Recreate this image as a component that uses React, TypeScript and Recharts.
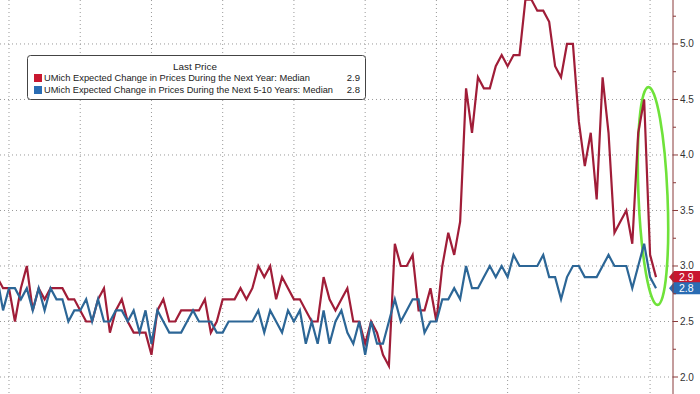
import { LineChart, Line, XAxis, YAxis, CartesianGrid, ReferenceLine, Legend, Customized } from 'recharts';

// monthly survey values, Oct 2014 .. Jan 2024
const yearAhead = [
  2.9, 2.8, 2.8, 2.5, 2.8, 3.0, 2.6, 2.8, 2.7, 2.8, 2.8, 2.8, 2.7, 2.7, 2.6,
  2.5, 2.5, 2.7, 2.8, 2.4, 2.6, 2.7, 2.5, 2.4, 2.4, 2.4, 2.2,
  2.6, 2.7, 2.5, 2.5, 2.6, 2.6, 2.6, 2.6, 2.7, 2.4, 2.5, 2.7,
  2.7, 2.7, 2.8, 2.7, 2.8, 3.0, 2.9, 3.0, 2.7, 2.9, 2.8, 2.7,
  2.7, 2.6, 2.5, 2.5, 2.9, 2.7, 2.6, 2.7, 2.8, 2.5, 2.5, 2.3,
  2.5, 2.4, 2.2, 2.1, 3.2, 3.0, 3.0, 3.1, 2.6, 2.6, 2.8, 2.5,
  3.0, 3.3, 3.1, 3.4, 4.6, 4.2, 4.7, 4.6, 4.6, 4.8, 4.9, 4.8,
  4.9, 4.9, 5.4, 5.4, 5.3, 5.3, 5.2, 4.8, 4.7, 5.0, 5.0, 4.3,
  3.9, 4.2, 3.6, 4.7, 4.2, 3.3, 3.4, 3.5, 3.2, 4.2, 4.5, 3.1,
  2.9,
];

const longRun = [
  2.9, 2.6, 2.8, 2.8, 2.7, 2.8, 2.6, 2.8, 2.6, 2.8, 2.7, 2.7, 2.5, 2.6, 2.6,
  2.7, 2.5, 2.7, 2.5, 2.5, 2.6, 2.6, 2.5, 2.6, 2.4, 2.6, 2.3,
  2.6, 2.5, 2.4, 2.4, 2.4, 2.5, 2.6, 2.5, 2.5, 2.5, 2.4, 2.4,
  2.5, 2.5, 2.5, 2.5, 2.5, 2.6, 2.4, 2.6, 2.5, 2.4, 2.6, 2.5,
  2.6, 2.3, 2.5, 2.3, 2.6, 2.3, 2.5, 2.6, 2.4, 2.3, 2.5, 2.2,
  2.5, 2.3, 2.3, 2.5, 2.7, 2.5, 2.6, 2.7, 2.7, 2.4, 2.5, 2.5,
  2.7, 2.7, 2.8, 2.7, 3.0, 2.8, 2.8, 2.9, 3.0, 2.9, 3.0, 2.9,
  3.1, 3.0, 3.0, 3.0, 3.0, 3.1, 2.9, 2.9, 2.7, 2.9, 3.0, 3.0,
  2.9, 2.9, 2.9, 3.0, 3.1, 3.0, 3.0, 3.0, 2.8, 3.0, 3.2, 2.9,
  2.8,
];

const seriesNames = [
  'UMich Expected Change in Prices During the Next Year: Median',
  'UMich Expected Change in Prices During the Next 5-10 Years: Median',
];

const yTicks = [2.0, 2.25, 2.5, 2.75, 3.0, 3.25, 3.5, 3.75, 4.0, 4.25, 4.5, 4.75, 5.0, 5.25];
const yGrid = [2.0, 2.5, 3.0, 3.5, 4.0, 4.5, 5.0];
// month index of each December (year boundaries)
const yearMarks = [2, 14, 26, 38, 50, 62, 74, 86, 98, 110];

const RED = '#a01d38';
const BLUE = '#2c6696';
const RED_TAG = '#c8172f';
const BLUE_TAG = '#2a6cb3';
const AXIS = '#8a3b3b';
const FONT = '"Liberation Sans", Arial, sans-serif';

const data = yearAhead.map((v, i) => ({ i, yearAhead: v, longRun: longRun[i] }));
const lastRed = yearAhead[yearAhead.length - 1];
const lastBlue = longRun[longRun.length - 1];

const AxisTick = (props: any) => {
  const { x, y, payload } = props;
  const v = payload.value;
  const major = Math.abs(v * 2 - Math.round(v * 2)) < 1e-6;
  return (
    <g>
      <line x1={x} x2={x + (major ? 5 : 3)} y1={y} y2={y} stroke={AXIS} strokeWidth={1} />
      {major && (
        <text x={x + 7} y={y} dy="0.35em" fontSize={10} fontFamily={FONT} fill="#333">
          {v.toFixed(1)}
        </text>
      )}
    </g>
  );
};

const tagLabel = (color: string, text: string) => (p: any) => {
  const vb = p.viewBox || {};
  const x0 = vb.x + vb.width - 4;
  const cy = vb.y;
  const pts = `${x0},${cy} ${x0 + 5},${cy - 6} ${x0 + 31},${cy - 6} ${x0 + 31},${cy + 6} ${x0 + 5},${cy + 6}`;
  return (
    <g>
      <polygon points={pts} fill={color} />
      <text x={x0 + 10} y={cy} dy="0.36em" fontSize={10.5} fontFamily={FONT} fill="#fff">
        {text}
      </text>
    </g>
  );
};

const LegendBox = () => (
  <svg width={340} height={46} style={{ display: 'block' }}>
    <rect x={0.5} y={0.5} width={338} height={44} rx={3} fill="#fff" stroke="#444" />
    <text x={168} y={14.5} textAnchor="middle" fontSize={9.5} fontFamily={FONT} fill="#222" textLength={44} lengthAdjust="spacingAndGlyphs">
      Last Price
    </text>
    {[RED_TAG, BLUE_TAG].map((c, k) => (
      <g key={k}>
        <rect x={7} y={19 + k * 12} width={8} height={8} fill={c} />
        <text x={17} y={26 + k * 11.5} fontSize={9.5} fontFamily={FONT} fill="#222" textLength={k === 0 ? 266 : 289} lengthAdjust="spacingAndGlyphs">
          {seriesNames[k]}
        </text>
        <text x={333} y={26 + k * 11.5} textAnchor="end" fontSize={9.5} fontFamily={FONT} fill="#222">
          {(k === 0 ? lastRed : lastBlue).toFixed(1)}
        </text>
      </g>
    ))}
  </svg>
);

// hand-drawn highlight around the latest readings
const Highlight = () => (
  <ellipse cx={653} cy={196} rx={14.5} ry={109} transform="rotate(-2.4 653 196)" fill="none" stroke="#6fe23a" strokeWidth={2.6} />
);

export default function App() {
  return (
    <div style={{ width: 700, height: 394, background: '#fff' }}>
      <style>{'body{margin:0}'}</style>
      <LineChart width={700} height={394} data={data} margin={{ top: 0, right: 0, bottom: 0, left: 0 }}>
        <CartesianGrid
          stroke="#999"
          strokeDasharray="1 3"
          horizontalValues={yGrid}
          verticalValues={yearMarks}
        />
        <XAxis dataKey="i" type="number" domain={[0.484, 113.86]} allowDataOverflow ticks={yearMarks} hide />
        <YAxis
          orientation="right"
          width={27}
          type="number"
          domain={[1.847, 5.396]}
          allowDataOverflow
          ticks={yTicks}
          interval={0}
          tickLine={false}
          tickSize={0}
          tickMargin={0}
          axisLine={{ stroke: AXIS }}
          tick={<AxisTick />}
        />
        <Line dataKey="yearAhead" type="linear" stroke={RED} strokeWidth={2.2} dot={false} isAnimationActive={false} />
        <Line dataKey="longRun" type="linear" stroke={BLUE} strokeWidth={2.2} dot={false} isAnimationActive={false} />
        <ReferenceLine y={lastRed} stroke="none" ifOverflow="visible" label={tagLabel(RED_TAG, lastRed.toFixed(1))} />
        <ReferenceLine y={lastBlue} stroke="none" ifOverflow="visible" label={tagLabel(BLUE_TAG, lastBlue.toFixed(1))} />
        <Customized component={Highlight} />
        <Legend
          layout="vertical"
          align="center"
          verticalAlign="middle"
          content={() => <LegendBox />}
          wrapperStyle={{ left: 27, top: 55, width: 340, height: 46 }}
        />
      </LineChart>
    </div>
  );
}
